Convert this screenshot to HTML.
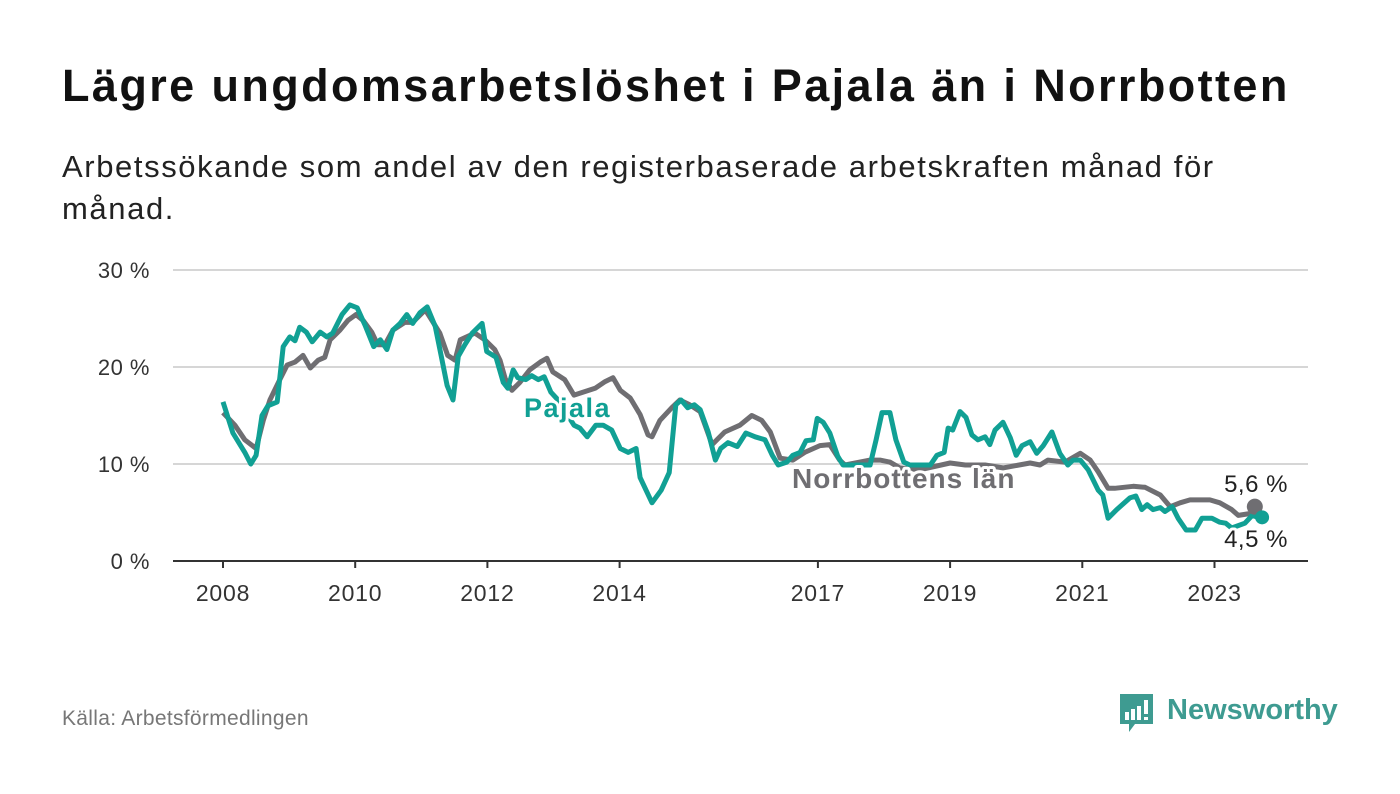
<!DOCTYPE html>
<html><head><meta charset="utf-8">
<style>
body{margin:0;background:#fff;width:1400px;height:794px;overflow:hidden;font-family:"Liberation Sans","DejaVu Sans",sans-serif;}
#title{position:absolute;left:62px;top:60px;font-size:45px;letter-spacing:2.4px;font-weight:bold;color:#111;margin:0;white-space:nowrap;}
#sub{position:absolute;left:62px;top:146px;width:1200px;font-size:31px;letter-spacing:1.6px;line-height:42px;color:#222;}
#src{position:absolute;left:62px;top:707px;font-size:21px;letter-spacing:0.3px;color:#777;}
svg{position:absolute;left:0;top:0;}
</style></head><body>
<h1 id="title">Lägre ungdomsarbetslöshet i Pajala än i Norrbotten</h1>
<div id="sub">Arbetssökande som andel av den registerbaserade arbetskraften månad för månad.</div>
<div id="src">Källa: Arbetsförmedlingen</div>
<svg id="chart" width="1400" height="794">
<g>
<path d="M1120 694 h33 v30 h-18 l-6 8 v-8 h-9 z" fill="#3e9b91"/>
<rect x="1125" y="712" width="4" height="8" fill="#fff"/><rect x="1131" y="709" width="4" height="11" fill="#fff"/><rect x="1137" y="706" width="4" height="14" fill="#fff"/><rect x="1144" y="700" width="4" height="14" fill="#fff"/><rect x="1144" y="717" width="4" height="3" fill="#fff"/>
<text x="1167" y="719" font-size="29" font-weight="bold" fill="#3e9b91" font-family="Liberation Sans, sans-serif">Newsworthy</text>
</g>
</svg>
<script>
const yTicks=[0,10,20,30];
const yTickLabels=["0 %","10 %","20 %","30 %"];
const xTicks=[2008,2010,2012,2014,2017,2019,2021,2023];
const pajala=[[0,16.4],[.15,13.2],[.33,11.2],[.42,10.0],[.5,10.9],[.59,15.0],[.68,16.0],[.82,16.4],[.91,22.1],[1.01,23.1],[1.09,22.7],[1.16,24.1],[1.26,23.6],[1.35,22.6],[1.47,23.6],[1.57,23.1],[1.66,23.5],[1.8,25.4],[1.92,26.4],[2.03,26.1],[2.15,24.3],[2.28,22.1],[2.38,22.8],[2.48,21.8],[2.57,23.8],[2.68,24.5],[2.78,25.4],[2.87,24.5],[2.98,25.6],[3.09,26.2],[3.21,24.2],[3.3,21.2],[3.39,18.1],[3.48,16.6],[3.56,21.1],[3.66,22.3],[3.77,23.5],[3.92,24.5],[3.99,21.6],[4.13,21.0],[4.24,18.4],[4.31,17.8],[4.39,19.7],[4.46,18.9],[4.58,18.7],[4.67,19.1],[4.77,18.7],[4.86,19.0],[4.96,17.4],[5.07,16.6],[5.31,14.0],[5.4,13.7],[5.51,12.8],[5.64,14.0],[5.75,14.0],[5.88,13.5],[6.01,11.6],[6.13,11.2],[6.25,11.6],[6.31,8.6],[6.49,6.0],[6.63,7.3],[6.75,9.1],[6.85,16.1],[6.93,16.6],[7.03,15.8],[7.13,16.1],[7.22,15.6],[7.34,13.3],[7.45,10.4],[7.53,11.6],[7.64,12.2],[7.78,11.8],[7.91,13.2],[8.05,12.8],[8.2,12.5],[8.31,10.9],[8.4,9.9],[8.53,10.2],[8.62,10.9],[8.73,11.2],[8.82,12.4],[8.93,12.5],[8.99,14.7],[9.08,14.3],[9.18,13.2],[9.3,10.8],[9.38,9.9],[9.79,9.9],[9.88,12.5],[9.97,15.3],[10.09,15.3],[10.18,12.5],[10.3,10.2],[10.39,9.9],[10.7,9.9],[10.8,10.9],[10.91,11.2],[10.97,13.7],[11.04,13.5],[11.15,15.4],[11.24,14.8],[11.33,13.0],[11.42,12.5],[11.53,12.8],[11.6,12.0],[11.68,13.5],[11.8,14.3],[11.91,12.7],[12.0,10.9],[12.09,11.9],[12.21,12.3],[12.31,11.1],[12.41,11.9],[12.54,13.3],[12.66,11.1],[12.78,9.9],[12.86,10.4],[12.97,10.4],[13.09,9.4],[13.24,7.3],[13.31,6.8],[13.39,4.4],[13.52,5.3],[13.72,6.5],[13.81,6.7],[13.9,5.3],[13.98,5.8],[14.07,5.3],[14.18,5.5],[14.25,5.1],[14.36,5.6],[14.45,4.4],[14.57,3.2],[14.71,3.2],[14.81,4.4],[14.96,4.4],[15.08,4.0],[15.17,3.9],[15.26,3.4],[15.46,3.9],[15.57,4.7],[15.66,4.5],[15.72,4.5]];
const norrbotten=[[0,15.3],[.18,14.0],[.33,12.5],[.5,11.6],[.61,14.5],[.71,16.6],[.86,18.7],[.97,20.2],[1.09,20.5],[1.21,21.2],[1.32,19.9],[1.44,20.7],[1.54,21.0],[1.62,22.8],[1.77,23.8],[1.89,24.8],[2.01,25.4],[2.12,24.8],[2.25,23.6],[2.34,22.3],[2.45,22.3],[2.57,23.8],[2.75,24.6],[2.87,24.6],[3.06,25.9],[3.28,23.5],[3.4,21.2],[3.51,20.7],[3.59,22.8],[3.81,23.5],[3.96,22.8],[4.11,21.8],[4.19,20.7],[4.27,18.8],[4.37,17.6],[4.49,18.4],[4.64,19.7],[4.8,20.5],[4.9,20.9],[4.99,19.5],[5.17,18.7],[5.31,17.1],[5.63,17.8],[5.78,18.5],[5.9,18.9],[6.01,17.6],[6.16,16.8],[6.31,15.1],[6.43,13.0],[6.49,12.8],[6.61,14.5],[6.79,15.8],[6.91,16.6],[7.06,16.1],[7.22,15.4],[7.4,12.0],[7.59,13.3],[7.82,14.0],[8.0,15.0],[8.15,14.5],[8.28,13.3],[8.43,10.6],[8.62,10.4],[8.8,11.2],[9.03,11.9],[9.18,12.0],[9.33,10.4],[9.41,9.9],[9.79,10.4],[9.94,10.4],[10.09,10.2],[10.24,9.6],[10.54,9.4],[11.0,10.1],[11.23,9.9],[11.53,9.9],[11.8,9.6],[12.21,10.1],[12.36,9.9],[12.48,10.4],[12.74,10.2],[12.97,11.1],[13.12,10.4],[13.24,9.2],[13.39,7.5],[13.49,7.5],[13.77,7.7],[13.95,7.6],[14.18,6.8],[14.33,5.6],[14.48,6.0],[14.63,6.3],[14.78,6.3],[14.93,6.3],[15.08,6.0],[15.26,5.3],[15.36,4.7],[15.54,4.9],[15.61,5.6]];
const NS="http://www.w3.org/2000/svg";
const svg=document.getElementById('chart');
const X0=173,X1=1308,Y0=561;
const xs=y=>223+(y-2008)*66.1;
const ys=v=>Y0-v*9.7;
function mk(t,a,p){const e=document.createElementNS(NS,t);for(const k in a)e.setAttribute(k,a[k]);(p||svg).appendChild(e);return e;}
yTicks.forEach((t,i)=>{
 const l=mk('line',{x1:X0,x2:X1,y1:ys(t),y2:ys(t),stroke:t===0?'#333':'#d6d6d6','stroke-width':2});
 
 
 const tx=mk('text',{x:150,y:ys(t)+8,'text-anchor':'end','font-size':22,fill:'#333','letter-spacing':0.5});
 tx.textContent=yTickLabels[i];
 
 
});
xTicks.forEach(t=>{
 const l=mk('line',{x1:xs(t),x2:xs(t),y1:Y0,y2:Y0+7,stroke:'#333','stroke-width':2});
 
 
 const tx=mk('text',{x:xs(t),y:Y0+40,'text-anchor':'middle','font-size':23,fill:'#333','letter-spacing':0.8});
 tx.textContent=t;
 
 
});
function line(P,c,name){
 const d=P.map((p,i)=>(i?'L':'M')+xs(2008+p[0]).toFixed(1)+' '+ys(p[1]).toFixed(1)).join(' ');
 const p=mk('path',{d:d,fill:'none',stroke:c,'stroke-width':5,'stroke-linejoin':'round'});
 
 
}
line(norrbotten,'#6f6e72','norrbotten-line');
line(pajala,'#11a094','pajala-line');
const nl=norrbotten[norrbotten.length-1];
const d1=mk('circle',{cx:xs(2008+nl[0]),cy:ys(nl[1]),r:8,fill:'#6f6e72'});


const pl=pajala[pajala.length-1];
const d2=mk('circle',{cx:xs(2008+pl[0]),cy:ys(pl[1]),r:7,fill:'#11a094'});


function lab(x,y,t,c,fs,w,name,anchor,ls){
 const e=mk('text',{x:x,y:y,'font-size':fs,'font-weight':w,fill:c,stroke:'#fff','stroke-width':6,'paint-order':'stroke','stroke-linejoin':'round','text-anchor':anchor||'start','letter-spacing':ls||0});
 e.textContent=t;
 
 
}
lab(524,417,'Pajala','#11a094',27,'bold','pajala-label','start',1.5);
lab(792,488,'Norrbottens län','#6f6e72',28,'bold','norrbotten-label','start',1);
lab(1256,492,'5,6 %','#222',24,'normal','norrbotten-value','middle',0.5);
lab(1256,547,'4,5 %','#222',24,'normal','pajala-value','middle',0.5);
</script>
</body></html>
